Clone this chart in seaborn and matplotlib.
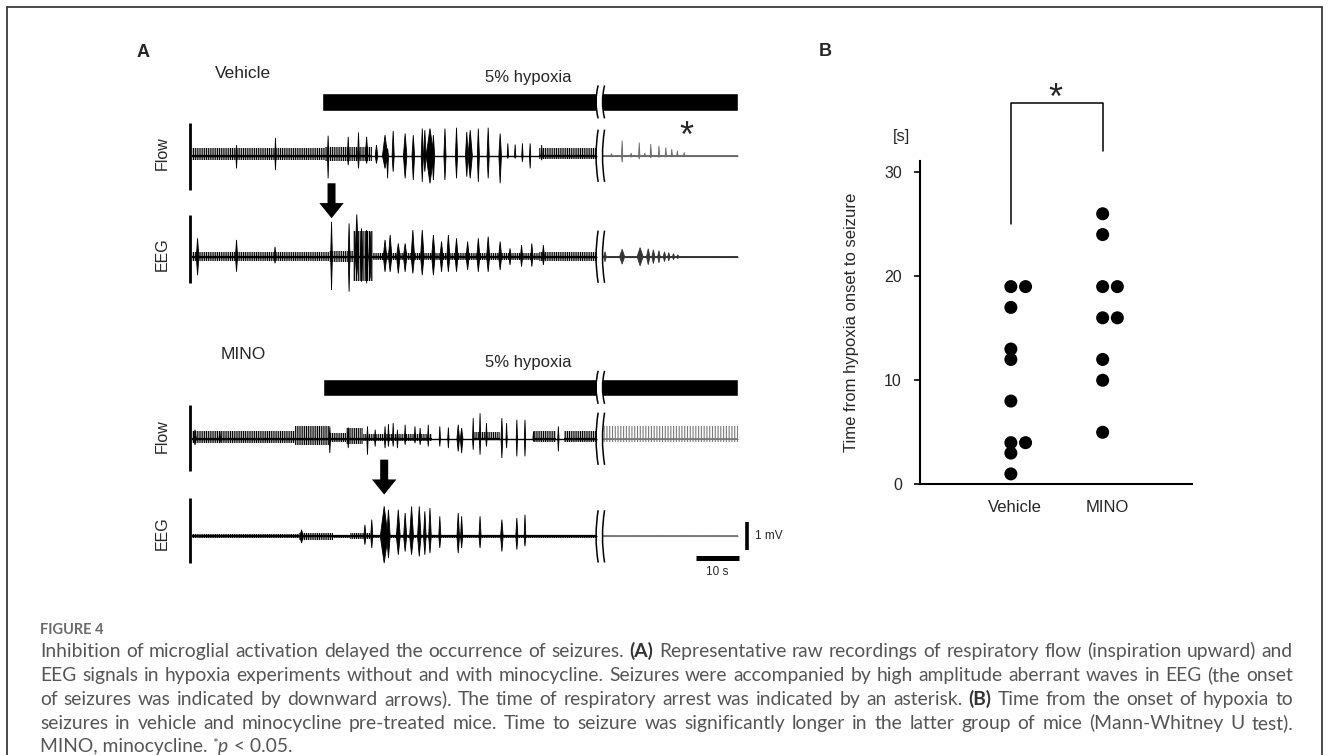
import matplotlib
matplotlib.use('Agg')
import numpy as np
import pandas as pd
import matplotlib.pyplot as plt
import seaborn as sns
from matplotlib.path import Path
from matplotlib.patches import PathPatch
from matplotlib.lines import Line2D

W, H = 1329, 755

# ---------------- Panel B data: time from hypoxia onset to seizure [s]
groups = ['Vehicle', 'MINO']
vehicle_s = [19, 19, 17, 13, 12, 8, 4, 4, 3, 1]
mino_s = [26, 24, 19, 19, 16, 16, 12, 10, 5]

# ---------------- Panel A data (time in s, amplitude in mV-equivalent)
hypoxia_on = {'Vehicle': 30.4, 'MINO': 30.6}
trace_end = 127.6
break_t = (94.6, 96.1)          # axis break (gap) in the recordings
seizure_onset = {'Vehicle': 32.6, 'MINO': 44.9}
resp_arrest_vehicle = 115.4

# noise bands: (t start, t end, up, down)
veh_flow_bands = [(0.0, 31.0, 0.27, 0.16), (31.0, 42.0, 0.33, 0.18), (81.0, 94.6, 0.27, 0.10)]
veh_eeg_bands = [(0.0, 32.0, 0.17, 0.17), (32.0, 37.7, 0.2, 0.2), (37.7, 42.2, 0.95, 0.9),
                 (42.2, 81.0, 0.12, 0.12), (81.0, 94.6, 0.17, 0.15)]
mino_flow_bands = [(0.0, 24.0, 0.27, 0.16), (24.0, 32.0, 0.45, 0.22), (32.0, 36.0, 0.2, 0.1),
                   (36.0, 40.0, 0.4, 0.2), (40.0, 56.0, 0.18, 0.08), (66.0, 72.0, 0.25, 0.05),
                   (80.0, 85.0, 0.27, 0.1), (87.0, 94.6, 0.3, 0.12)]
mino_eeg_bands = [(0.0, 25.0, 0.07, 0.07), (25.0, 33.0, 0.13, 0.12), (33.0, 37.0, 0.06, 0.06),
                  (37.0, 41.5, 0.12, 0.1), (41.5, 79.0, 0.05, 0.05), (79.0, 94.6, 0.05, 0.05)]
veh_flow_post_bands = [(96.1, 127.6, 0.03, 0.03)]
veh_eeg_post_bands = [(96.1, 127.6, 0.03, 0.03)]
mino_flow_post_bands = [(96.1, 127.6, 0.47, 0.13)]
mino_eeg_post_bands = [(96.1, 127.6, 0.05, 0.04)]

# events: (t, up, down, width)
veh_flow_events = [
    (10.4, .39, .46, .3), (19.5, .65, .52, .3), (31.8, .73, .82, .3), (36.5, .69, .34, .4),
    (38.9, .85, .46, .4), (40.8, .69, .28, .6), (43.1, .39, .28, .6), (45.1, .75, .46, 1.2),
    (45.7, .27, .82, .4), (47.0, .90, .58, .5), (49.8, .81, .82, .8), (51.7, .75, .88, .6),
    (53.8, .99, .95, .5), (54.4, .93, .58, .6), (55.6, .99, 1.0, 1.8), (56.4, .75, .88, .6),
    (59.1, .99, .88, .5), (61.8, 1.02, .82, .5), (64.2, .87, .76, .6), (65.0, .93, .82, 1.0),
    (66.9, .99, .95, .5), (69.2, 1.02, .82, .5), (72.0, .81, 1.0, .6), (73.8, .45, .10, .3),
    (75.5, .41, .10, .3), (77.2, .45, .22, .3), (79.0, .45, .46, .3), (81.7, .39, .16, .3)]
veh_eeg_events = [
    (1.3, .67, .67, .6), (10.4, .61, .55, .5), (19.4, .36, .24, .4), (32.6, 1.27, 1.21, .4),
    (36.7, 1.21, 1.27, .4), (38.5, 1.54, .67, .8), (39.6, 1.03, .91, .6), (40.8, .97, .97, .6),
    (41.6, .91, .79, .6), (45.1, .61, .55, .8), (46.3, .79, .55, .8), (48.2, .48, .61, .8),
    (49.8, .48, .55, .8), (51.6, .97, .61, .8), (53.8, .97, .67, .8), (56.4, .79, .67, .8),
    (58.3, .55, .55, .7), (59.9, .79, .55, .7), (61.8, .67, .55, .7), (64.4, .55, .48, .7),
    (66.9, .67, .55, .7), (69.2, .73, .55, .7), (72.0, .55, .48, .7), (74.3, .30, .30, .5),
    (77.0, .42, .36, .5), (79.4, .48, .36, .5), (82.1, .42, .30, .5)]
mino_flow_events = [
    (0.7, .33, .22, .6), (6.5, .27, .16, .4), (32.2, .45, .52, .3), (36.5, .41, .34, .3),
    (41.0, .45, .58, .3), (42.8, .33, .28, .3), (45.1, .45, .34, .3), (45.9, .53, .28, .3),
    (47.0, .57, .28, .3), (48.0, .33, .34, .3), (49.8, .51, .22, .3), (52.1, .45, .16, .3),
    (53.3, .39, .22, .3), (55.2, .51, .28, .3), (57.9, .45, .28, .3), (59.9, .41, .34, .3),
    (62.2, .51, .46, .6), (63.0, .39, .52, .6), (65.7, .75, .40, .3), (67.3, .93, .58, .3),
    (68.8, .57, .28, .3), (72.4, .75, .70, .4), (73.5, .57, .34, .3), (75.9, .69, .64, .3),
    (77.8, .69, .64, .3), (79.8, .27, .10, .3), (85.6, .45, .46, .3)]
mino_eeg_events = [
    (25.6, .24, .24, .8), (40.4, .42, .30, .5), (42.0, .61, .42, .5), (44.9, 1.09, .97, 1.8),
    (45.9, .97, .79, .8), (48.2, .97, .67, .9), (49.8, .85, .55, .7), (51.3, 1.09, .67, .9),
    (53.1, 1.09, .73, .8), (54.4, .91, .67, .6), (55.6, 1.03, .61, .6), (57.9, .73, .42, .5),
    (62.2, .85, .61, .6), (63.0, .73, .42, .5), (67.3, .73, .42, .5), (72.4, .61, .55, .6),
    (75.9, .67, .48, .5), (77.8, .79, .36, .4)]
veh_flow_post_events = [
    (98.0, .08, .04, .3), (100.5, .55, .24, .3), (102.6, .10, .05, .3), (104.5, .48, .12, .3),
    (105.8, .10, .04, .3), (107.2, .43, .08, .3), (109.1, .36, .06, .3), (110.7, .30, .05, .3),
    (112.1, .24, .04, .3), (113.4, .18, .03, .3), (115.0, .12, .02, .3)]
veh_eeg_post_events = [
    (96.5, .18, .18, .6), (100.5, .27, .27, 1.2), (104.7, .33, .33, 1.4), (106.6, .29, .29, .8),
    (107.8, .25, .25, .7), (109.1, .22, .22, .6), (110.4, .18, .18, .6), (111.4, .15, .15, .5),
    (112.5, .11, .11, .5), (113.5, .07, .07, .5)]

# left calibration bars of each trace: (up, down)
cal_bars = {'veh_flow': (1.19, 1.25), 'veh_eeg': (1.52, 0.96),
            'mino_flow': (1.24, 1.19), 'mino_eeg': (1.39, 0.97)}

# caption
caption_lines = [
    "Inhibition of microglial activation delayed the occurrence of seizures. (A) Representative raw recordings of respiratory flow (inspiration upward) and",
    "EEG signals in hypoxia experiments without and with minocycline. Seizures were accompanied by high amplitude aberrant waves in EEG (the onset",
    "of seizures was indicated by downward arrows). The time of respiratory arrest was indicated by an asterisk. (B) Time from the onset of hypoxia to",
    "seizures in vehicle and minocycline pre-treated mice. Time to seizure was significantly longer in the latter group of mice (Mann-Whitney U test).",
]

sns.set_theme(style='white')
plt.rcParams['font.family'] = ['Liberation Sans', 'DejaVu Sans']
plt.rcParams['hatch.linewidth'] = 0.8

fig = plt.figure(figsize=(W / 100, H / 100), dpi=100)
fig.patch.set_facecolor('white')


def px_box(x0, y0, x1, y1):
    return [x0 / W, 1 - y1 / H, (x1 - x0) / W, (y1 - y0) / H]


# ================= Panel A =================
axa = fig.add_axes(px_box(130, 40, 800, 590))
axa.set_xlim(-14.49, 142.06)
axa.set_ylim(0, 20)
axa.axis('off')

base = {'veh_flow': 15.79, 'veh_eeg': 12.12, 'mino_flow': 5.50, 'mino_eeg': 1.95}
bar_y = {'Vehicle': 17.75, 'MINO': 7.37}


def draw_trace(ax, b, bands, events, t0, t1, color='black', lw=1.0, hatch='|||||||||'):
    ax.plot([t0, t1], [b, b], color=color, lw=lw, solid_capstyle='butt')
    for a, e, up, dn in bands:
        # dense recording shown as a hatched band
        ax.fill_between([a, e], b - dn, b + up, facecolor='none', edgecolor=color,
                        hatch=hatch, lw=0)
        ax.plot([a, e], [b, b], color=color, lw=lw * 1.6, solid_capstyle='butt')
    for t, up, dn, w in events:
        ax.fill([t - w / 2, t, t + w / 2, t], [b, b + up, b, b - dn],
                facecolor=color, edgecolor=color, lw=0.6)


def draw_break(ax, y0, y1, white=False):
    t0, t1 = break_t
    if white:
        ax.fill_between([t0, t1], y0, y1, color='white', lw=0, zorder=5)
    for tx in (t0, t1):
        verts = [(tx + 0.3, y1), (tx - 0.7, (y0 + y1) / 2), (tx + 0.3, y0)]
        p = Path(verts, [Path.MOVETO, Path.CURVE3, Path.CURVE3])
        ax.add_patch(PathPatch(p, fill=False, lw=1.1, color='black', zorder=6))


for grp in groups:
    on = hypoxia_on[grp]
    axa.barh(bar_y[grp], trace_end - on, left=on, height=0.63, color='black')
    draw_break(axa, bar_y[grp] - 0.6, bar_y[grp] + 0.6, white=True)

pre = (0.0, break_t[0])
post = (break_t[1], trace_end)
draw_trace(axa, base['veh_flow'], veh_flow_bands, veh_flow_events, *pre)
draw_trace(axa, base['veh_flow'], veh_flow_post_bands, veh_flow_post_events, *post,
           color='#6a6a6a', lw=0.8)
draw_trace(axa, base['veh_eeg'], veh_eeg_bands, veh_eeg_events, *pre)
draw_trace(axa, base['veh_eeg'], veh_eeg_post_bands, veh_eeg_post_events, *post,
           color='#333333', lw=0.8)
draw_trace(axa, base['mino_flow'], mino_flow_bands, mino_flow_events, *pre)
draw_trace(axa, base['mino_flow'], mino_flow_post_bands, [], *post, color='#7a7a7a', lw=0.8,
           hatch='||||||')
draw_trace(axa, base['mino_eeg'], mino_eeg_bands, mino_eeg_events, *pre)
draw_trace(axa, base['mino_eeg'], mino_eeg_post_bands, [], *post, color='#7a7a7a', lw=0.8)

for key, (up, dn) in cal_bars.items():
    axa.plot([-0.47, -0.47], [base[key] - dn, base[key] + up], color='black', lw=2.0,
             solid_capstyle='butt')
    draw_break(axa, base[key] - 0.95, base[key] + 0.95)

# seizure onset arrows
for grp, key in (('Vehicle', 'veh_flow'), ('MINO', 'mino_flow')):
    top = base[key] - 1.0 if grp == 'Vehicle' else base[key] - 0.76
    axa.arrow(seizure_onset[grp], top, 0, -1.27, width=1.87, head_width=5.7,
              head_length=0.55, length_includes_head=True, color='black', lw=0)

# respiratory arrest asterisk
axa.text(resp_arrest_vehicle, 16.1, '*', fontsize=26, ha='center', va='baseline')

# labels
axa.text(-11.45, 19.56, 'A', fontsize=13, fontweight='bold', ha='center', va='center')
axa.text(11.9, 18.8, 'Vehicle', fontsize=12.5, ha='center', va='center')
axa.text(11.9, 8.55, 'MINO', fontsize=12.5, ha='center', va='center')
for grp in groups:
    axa.text(78.5, bar_y[grp] + 0.9, '5% hypoxia', fontsize=12, ha='center', va='center')
for key, lab in (('veh_flow', 'Flow'), ('veh_eeg', 'EEG'), ('mino_flow', 'Flow'), ('mino_eeg', 'EEG')):
    axa.text(-7.0, base[key] + 0.1, lab, fontsize=11.5, rotation=90, ha='center', va='center')

# scale bars
axa.plot([129.6, 129.6], [1.455, 2.485], color='black', lw=2.6, solid_capstyle='butt')
axa.text(131.6, 1.97, '1 mV', fontsize=8.5, ha='left', va='center')
axa.plot([117.8, 127.8], [1.18, 1.18], color='black', lw=3.6, solid_capstyle='butt')
axa.text(122.8, 0.67, '10 s', fontsize=8.5, ha='center', va='center')

# ================= Panel B =================
axb = fig.add_axes(px_box(920, 160.7, 1191.7, 484.3))
df_b = pd.DataFrame({'group': ['Vehicle'] * len(vehicle_s) + ['MINO'] * len(mino_s),
                     'time': vehicle_s + mino_s})
df_b['pos'] = (df_b['group'].map({g: i for i, g in enumerate(groups)})
               + df_b.groupby(['group', 'time']).cumcount() * 0.16)
sns.scatterplot(data=df_b, x='pos', y='time', color='black', s=88, edgecolor='none',
                ax=axb, clip_on=False, legend=False, zorder=3)
axb.set_xlim(-0.99, 1.97)
axb.set_ylim(0, 31.1)
axb.set_yticks([0, 10, 20, 30])
axb.set_xticks([0.04, 1.05])
axb.set_xticklabels(groups, fontsize=12)
axb.tick_params(axis='x', length=0, pad=11)
axb.tick_params(axis='y', direction='out', length=4, width=1.4, labelsize=11.5, pad=9, left=True)
for s in ('top', 'right'):
    axb.spines[s].set_visible(False)
for s in ('left', 'bottom'):
    axb.spines[s].set_color('black')
    axb.spines[s].set_linewidth(1.5)
axb.set_xlabel('')
axb.set_ylabel('Time from hypoxia onset to seizure', fontsize=12)
axb.yaxis.set_label_coords(-0.225, 0.5)
axb.text(-0.067, 1.074, '[s]', transform=axb.transAxes, fontsize=12, ha='center', va='center')
axb.plot([0, 0, 1, 1], [25.0, 36.6, 36.6, 32.0], color='black', lw=1.1, clip_on=False)
axb.text(0.48, 36.1, '*', fontsize=26, ha='center', va='baseline')
fig.text(825 / W, 1 - 52 / H, 'B', fontsize=13, fontweight='bold', ha='center', va='center')

# ================= Caption & frame =================
renderer = fig.canvas.get_renderer()
cap_color = '#555555'
cap_family = ['Lato', 'DejaVu Sans']
fig.text(40 / W, 1 - 634 / H, 'FIGURE 4', fontsize=10.5, fontweight='bold', color='#6b6b6b',
         family=cap_family, va='baseline')

# pick the caption size so that the longest line just fills the text block
probes = [fig.text(0, 0, ln, fontsize=11, family=cap_family) for ln in caption_lines]
natural = max(p.get_window_extent(renderer).width for p in probes)
for p in probes:
    p.remove()
cap_size = 11 * (1293 - 40) / natural * 0.99


def justify(line, y_px, x0=40, x1=1293):
    words = line.split(' ')
    texts = []
    for wd in words:
        bold = wd in ('(A)', '(B)')
        texts.append(fig.text(0, 1 - y_px / H, wd, fontsize=cap_size, family=cap_family,
                              color='#333333' if bold else cap_color,
                              fontweight='bold' if bold else 'normal', va='baseline'))
    widths = [t.get_window_extent(renderer).width for t in texts]
    gap = (x1 - x0 - sum(widths)) / (len(texts) - 1)
    x = x0
    for t, w in zip(texts, widths):
        t.set_x(x / W)
        x += w + gap


for i, line in enumerate(caption_lines):
    justify(line, 657 + 24 * i)

# last (non-justified) line with *p
y_last = 1 - 752 / H
kw = dict(fontsize=cap_size, family=cap_family, color=cap_color, va='baseline')
t1 = fig.text(40 / W, y_last, 'MINO, minocycline. ', **kw)
x = 40 + t1.get_window_extent(renderer).width
t2 = fig.text(x / W, y_last + 4 / H, '*', **{**kw, 'fontsize': cap_size * 0.7})
x += t2.get_window_extent(renderer).width
t3 = fig.text(x / W, y_last, 'p', style='italic', **kw)
x += t3.get_window_extent(renderer).width + 1
fig.text(x / W, y_last, ' < 0.05.', **kw)

for xs, ys in (([7 / W, 7 / W], [0, 1 - 7 / H]), ([7 / W, 1322 / W], [1 - 7 / H, 1 - 7 / H]),
               ([1322 / W, 1322 / W], [1 - 7 / H, 0])):
    fig.add_artist(Line2D(xs, ys, color='#3a3a3a', lw=1.3))

fig.savefig('out.png', dpi=100, facecolor='white')
